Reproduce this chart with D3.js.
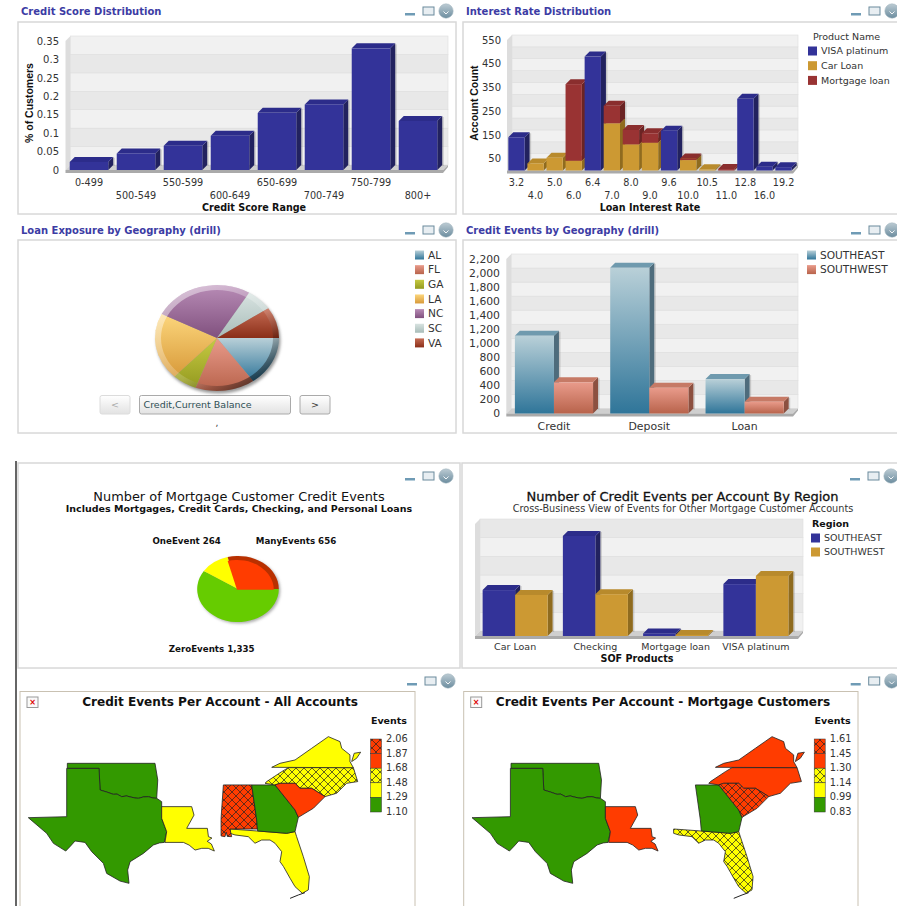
<!DOCTYPE html>
<html>
<head>
<meta charset="utf-8">
<script src="https://cdn.jsdelivr.net/npm/d3@7/dist/d3.min.js"></script>
<style>
html, body { margin: 0; padding: 0; background: #fff; overflow: hidden; }
svg { display: block; font-family: "DejaVu Sans", sans-serif; }
text { fill: #333; }
</style>
</head>
<body>
<div id="chart"></div>
<script>
// credit score panel
const scoreRanges = ["0-499", "500-549", "550-599", "600-649", "650-699", "700-749", "750-799", "800+"];
const scoreShares = [0.022, 0.045, 0.066, 0.093, 0.155, 0.178, 0.33, 0.133];
const scoreTicks = [0, 0.05, 0.1, 0.15, 0.2, 0.25, 0.3, 0.35];

// interest rate panel
const rates = ["3.2", "4.0", "5.0", "6.0", "6.4", "7.0", "8.0", "9.0", "9.6", "10.0", "10.5", "11.0", "12.8", "16.0", "19.2"];
const rateVisa = [140, 0, 0, 0, 480, 0, 0, 0, 168, 0, 0, 0, 302, 16, 14];
const rateCar = [0, 30, 54, 41, 0, 199, 110, 117, 0, 44, 5, 0, 0, 0, 0];
const rateMortgage = [0, 0, 0, 323, 0, 74, 61, 40, 0, 7, 0, 6, 0, 0, 0];
const rateBands = [0, 50, 100, 150, 200, 250, 300, 350, 400, 450, 500, 550];
const rateTicks = [50, 150, 250, 350, 450, 550];

// loan exposure pie
const exposureStates = ["AL", "FL", "GA", "LA", "NC", "SC", "VA"];
const exposureShares = [15.1, 15.5, 6.4, 20.4, 26.2, 6.8, 9.5];

// credit events by geography
const eventTypes = ["Credit", "Deposit", "Loan"];
const eventsSoutheast = [1107, 2074, 490];
const eventsSouthwest = [444, 367, 168];
const eventTicks = [0, 200, 400, 600, 800, 1000, 1200, 1400, 1600, 1800, 2000, 2200];

// mortgage customer pie
const customerLabels = ["ZeroEvents", "OneEvent", "ManyEvents"];
const customerCounts = [1335, 264, 656];

// events per account by region
const products = ["Car Loan", "Checking", "Mortgage loan", "VISA platinum"];
const productSoutheast = [1.23, 2.68, 0.07, 1.39];
const productSouthwest = [1.10, 1.12, 0.03, 1.61];
const productBands = [0, 0.5, 1, 1.5, 2, 2.5, 3];

// state outlines, [lon, lat]
const redRiver = [[-99.9, 36.5], [-99.8, 34.5], [-99.2, 34.32], [-98.55, 34.1], [-98.2, 34.12], [-97.76, 33.88], [-97.3, 33.95], [-96.97, 33.86], [-96.5, 33.76], [-96.19, 33.73], [-95.7, 33.86], [-95.25, 33.88], [-94.8, 33.76], [-94.46, 33.73]];
const oklahoma = [[-102.89, 36.97], [-94.62, 36.97], [-94.36, 35.43], ...redRiver.slice().reverse(), [-102.89, 36.5]];
const texas = [[-102.95, 36.5], ...redRiver, [-93.99, 33.42], [-93.99, 31.88], [-93.52, 30.64], [-93.74, 29.65], [-94.2, 29.6], [-94.77, 29.41], [-95.72, 28.63], [-96.97, 27.86], [-97.2, 27.09], [-97.07, 25.86], [-97.92, 26.07], [-99.18, 26.78], [-99.49, 27.71], [-100.59, 28.79], [-101.22, 29.65], [-102.16, 29.78], [-102.6, 29.3], [-103.04, 28.85], [-104.2, 29.56], [-104.84, 30.49], [-106.57, 31.94], [-102.95, 32.03]];
const louisiana = [[-93.99, 32.96], [-91.16, 32.96], [-90.94, 32.18], [-91.63, 30.95], [-89.68, 30.95], [-89.58, 30.18], [-89.25, 30.05], [-89.7, 29.75], [-89.3, 29.5], [-89.02, 28.85], [-89.6, 29.1], [-90.21, 29.1], [-90.84, 28.94], [-91.4, 29.4], [-91.94, 29.65], [-93.68, 29.65], [-93.52, 30.64], [-93.99, 31.88]];
const alabama = [[-88.17, 34.97], [-85.5, 34.97], [-85.03, 31.73], [-84.97, 30.89], [-87.55, 30.89], [-87.39, 30.18], [-87.8, 30.2], [-87.9, 30.6], [-88.02, 30.18], [-88.39, 30.25], [-88.39, 31.88]];
const georgia = [[-85.5, 34.97], [-83.3, 34.97], [-81.41, 32.65], [-81.1, 31.97], [-81.41, 30.65], [-82.2, 30.49], [-84.94, 30.71], [-85.03, 31.73]];
const southCarolina = [[-83.3, 34.97], [-82.83, 35.12], [-81.41, 35.12], [-80.94, 34.66], [-79.84, 34.66], [-78.58, 33.89], [-79.68, 32.81], [-81.1, 31.97], [-81.41, 32.65]];
const northCarolina = [[-84.24, 35.12], [-84.05, 35.3], [-82.67, 36.2], [-82.04, 36.57], [-75.91, 36.57], [-75.5, 35.28], [-76.54, 35.12], [-77.48, 34.2], [-78.58, 33.89], [-79.84, 34.66], [-80.94, 34.66], [-81.41, 35.12], [-82.83, 35.12], [-83.3, 34.97]];
const virginia = [[-83.61, 36.6], [-75.91, 36.57], [-76.23, 37.13], [-76.23, 37.75], [-77.01, 38.36], [-77.17, 38.98], [-78.27, 39.44], [-79.84, 38.36], [-81.41, 37.28], [-82.83, 36.97]];
const virginiaShore = [[-76.07, 37.13], [-75.83, 37.9], [-75.22, 38], [-75.6, 37.44]];
const florida = [[-87.55, 30.89], [-85.03, 30.71], [-82.2, 30.49], [-81.41, 30.65], [-81.26, 30.18], [-80.63, 28.33], [-80.06, 26.48], [-80.16, 25.25], [-80.72, 24.94], [-81.41, 25.55], [-81.88, 26.33], [-82.5, 27.41], [-82.83, 27.87], [-82.67, 28.79], [-83.3, 29.57], [-83.77, 29.87], [-84.56, 29.87], [-85.19, 29.57], [-85.82, 30.18], [-87.07, 30.34], [-87.55, 30.49]];
const floridaKeys = [[-80.47, 25], [-81.1, 24.78], [-81.88, 24.47]];
const shapes = { OK: oklahoma, TX: texas, LA: louisiana, AL: alabama, FL: florida, GA: georgia, SC: southCarolina, NC: northCarolina, VA: virginia, VAE: virginiaShore };

// legend band per state, 0 = lowest
const allAccountsBands = { OK: 0, TX: 0, LA: 1, FL: 1, AL: 4, GA: 0, NC: 2, SC: 3, VA: 1, VAE: 1 };
const mortgageBands = { OK: 0, TX: 0, LA: 3, FL: 2, GA: 0, NC: 3, SC: 4, VA: 3, VAE: 3 };
const allAccountsBreaks = ["2.06", "1.87", "1.68", "1.48", "1.29", "1.10"];
const mortgageBreaks = ["1.61", "1.45", "1.30", "1.14", "0.99", "0.83"];

const WIDTH = 897;
const HEIGHT = 906;
const DEPTH = 5;

const navy = { front: "#333399", top: "#2c2c8a", side: "#22225f" };
const gold = { front: "#cc9933", top: "#b88a2c", side: "#8f6b1f" };
const maroon = { front: "#993333", top: "#8a2e2e", side: "#6b2424" };
const steel = { front: "url(#gradSteel)", top: "#6f9aae", side: "#4e6c7c" };
const salmon = { front: "url(#gradSalmon)", top: "#c67a66", side: "#8c5040" };

const svg = d3.select("#chart").append("svg").attr("width", WIDTH).attr("height", HEIGHT);
const defs = svg.append("defs");

function linearGradient(id, c1, c2) {
    const g = defs.append("linearGradient").attr("id", id)
        .attr("x1", 0).attr("y1", 0).attr("x2", 0).attr("y2", 1);
    g.append("stop").attr("offset", "0%").attr("stop-color", c1);
    g.append("stop").attr("offset", "100%").attr("stop-color", c2);
}
linearGradient("gradSteel", "#b9d0d8", "#2f7599");
linearGradient("gradSalmon", "#e99b8b", "#b8634b");
linearGradient("gradButton", "#ffffff", "#e2e2e2");
linearGradient("gradIcon", "#bccbd3", "#6c8d9f");

const pieStops = [["#b9d0d8", "#2f7599"], ["#e99b8b", "#b8634b"], ["#c6ca42", "#949a20"], ["#fcd67c", "#d89a3a"], ["#b88cb6", "#80507e"], ["#d8e3e1", "#a8bcb8"], ["#c66c54", "#8a2e18"]];
pieStops.forEach((s, i) => linearGradient(`gradPie${i}`, s[0], s[1]));

const rim = defs.append("linearGradient").attr("id", "gradRim")
    .attr("x1", 0.1).attr("y1", 0.1).attr("x2", 0.85).attr("y2", 0.9);
rim.append("stop").attr("offset", "0%").attr("stop-color", "#fff").attr("stop-opacity", 0.5);
rim.append("stop").attr("offset", "60%").attr("stop-color", "#fff").attr("stop-opacity", 0.15);
rim.append("stop").attr("offset", "80%").attr("stop-color", "#000").attr("stop-opacity", 0.2);
rim.append("stop").attr("offset", "100%").attr("stop-color", "#000").attr("stop-opacity", 0.55);

defs.append("filter").attr("id", "blur").append("feGaussianBlur").attr("stdDeviation", 1.4);

function hatch(id, fill) {
    const p = defs.append("pattern").attr("id", id).attr("patternUnits", "userSpaceOnUse")
        .attr("width", 8).attr("height", 8);
    p.append("rect").attr("width", 8).attr("height", 8).attr("fill", fill);
    p.append("path").attr("d", "M0,0L8,8M8,0L0,8").attr("stroke", "#222").attr("stroke-width", 0.7);
}
hatch("hatchYellow", "#ffff00");
hatch("hatchRed", "#ff3c00");

const bandFill = d3.scaleOrdinal()
    .domain([0, 1, 2, 3, 4])
    .range(["#339900", "#ffff00", "url(#hatchYellow)", "#ff3c00", "url(#hatchRed)"]);

function frame(x1, y1, x2, y2) {
    svg.append("rect")
        .attr("x", x1).attr("y", y1)
        .attr("width", x2 - x1).attr("height", y2 - y1)
        .attr("fill", "#fff").attr("stroke", "#d8d8d8").attr("stroke-width", 1.5);
}

function panelTitle(x, y, label) {
    svg.append("text").attr("x", x).attr("y", y).attr("dy", "0.35em")
        .attr("font-size", 10).attr("font-weight", "bold")
        .style("fill", "#3c3ca4").text(label);
}

function windowIcons(x, y) {
    const g = svg.append("g").attr("transform", `translate(${x},${y})`);
    g.append("rect").attr("x", 0).attr("y", 2).attr("width", 10).attr("height", 2.5).attr("fill", "#6f9bb5");
    g.append("rect").attr("x", 18).attr("y", -4).attr("width", 11).attr("height", 8)
        .attr("fill", "#e8eef2").attr("stroke", "#6a8a9c");
    g.append("circle").attr("cx", 41).attr("cy", 0).attr("r", 7.2).attr("fill", "url(#gradIcon)").attr("stroke", "#9fb3bd").attr("stroke-width", 0.5);
    g.append("path").attr("d", "M38.5,0.5L41,3L43.5,0.5").attr("fill", "none").attr("stroke", "#fff").attr("stroke-width", 0.9);
}

// back wall, side wall and floor of a fake 3d plot
function drawWalls(g, x0, x1, y, bands) {
    const yBottom = y(bands[0]);
    const yTop = y(bands[bands.length - 1]);
    g.append("polygon")
        .attr("points", [[x0, yBottom], [x0, yTop], [x0 + DEPTH, yTop - DEPTH], [x0 + DEPTH, yBottom - DEPTH]].join(" "))
        .attr("fill", "#dddddd");
    g.append("g").selectAll("rect")
        .data(d3.pairs(bands))
        .join("rect")
        .attr("x", x0 + DEPTH)
        .attr("y", d => y(d[1]) - DEPTH)
        .attr("width", x1 - x0)
        .attr("height", d => y(d[0]) - y(d[1]))
        .attr("fill", (d, i) => i % 2 ? "#e8e8e8" : "#f1f1f1")
        .attr("stroke", "#dedede")
        .attr("stroke-width", 0.6);
    g.append("polygon")
        .attr("points", [[x0, yBottom], [x1, yBottom], [x1 + DEPTH, yBottom - DEPTH], [x0 + DEPTH, yBottom - DEPTH]].join(" "))
        .attr("fill", "#cfcfcf");
    g.append("polygon")
        .attr("points", [[x0, yBottom], [x1, yBottom], [x1 + DEPTH, yBottom - DEPTH], [x1 + DEPTH, yBottom - DEPTH + 2], [x1, yBottom + 3], [x0, yBottom + 3]].join(" "))
        .attr("fill", "#aaaaaa");
}

function bar3d(g, x, w, yTop, yBottom, colors) {
    // soft shadow right of the bar
    g.append("rect")
        .attr("x", x + w + DEPTH).attr("y", yTop - DEPTH + 1).attr("width", 1.5).attr("height", yBottom - yTop)
        .attr("fill", "#777").attr("opacity", 0.3);
    g.append("polygon")
        .attr("points", [[x + w, yTop], [x + w + DEPTH, yTop - DEPTH], [x + w + DEPTH, yBottom - DEPTH], [x + w, yBottom]].join(" "))
        .attr("fill", colors.side);
    g.append("polygon")
        .attr("points", [[x, yTop], [x + DEPTH, yTop - DEPTH], [x + w + DEPTH, yTop - DEPTH], [x + w, yTop]].join(" "))
        .attr("fill", colors.top);
    g.append("rect")
        .attr("x", x).attr("y", yTop).attr("width", w).attr("height", Math.max(yBottom - yTop, 0.1))
        .attr("fill", colors.front);
}

function valueAxis(x, y, ticks, format, size) {
    const a = svg.append("g").attr("transform", `translate(${x},0)`)
        .call(d3.axisLeft(y).tickValues(ticks).tickFormat(format).tickSize(0).tickPadding(3));
    a.select(".domain").remove();
    a.selectAll("text").attr("font-size", size).style("fill", "#333");
    a.attr("font-family", null);
}

function bandAxis(scale, y, stagger, size) {
    const a = svg.append("g").attr("transform", `translate(0,${y})`)
        .call(d3.axisBottom(scale).tickSize(0).tickPadding(0));
    a.select(".domain").remove();
    a.selectAll("text")
        .attr("font-size", size)
        .attr("dy", "0.35em")
        .attr("y", (d, i) => stagger && i % 2 ? 12.5 : 0)
        .style("fill", "#333");
    a.attr("font-family", null);
}

function axisTitle(x, y, label) {
    svg.append("text").attr("x", x).attr("y", y).attr("dy", "0.35em")
        .attr("text-anchor", "middle")
        .attr("font-size", 9.6).attr("font-weight", "bold").style("fill", "#111").text(label);
}

function yTitle(x, y, label) {
    svg.append("text").attr("transform", `translate(${x},${y}) rotate(-90)`)
        .attr("dy", "0.35em").attr("text-anchor", "middle")
        .attr("font-family", "Liberation Sans").attr("font-size", 10.5).attr("font-weight", "bold")
        .style("fill", "#111").text(label);
}

function legendRows(x, y, step, names, fills, size) {
    const g = svg.append("g").selectAll("g")
        .data(names).join("g")
        .attr("transform", (d, i) => `translate(${x},${y + i * step})`);
    g.append("rect").attr("x", 0).attr("y", -4.5).attr("width", 9).attr("height", 9)
        .attr("fill", (d, i) => fills[i]);
    g.append("text").attr("x", 13).attr("dy", "0.35em").attr("font-size", size).style("fill", "#333").text(d => d);
}

// ---- Credit Score Distribution
function renderScore() {
    panelTitle(21, 11, "Credit Score Distribution");
    windowIcons(405, 11);
    frame(18, 22, 456, 214);
    const x = d3.scaleBand().domain(scoreRanges).range([65.5, 441.5]).paddingInner(0.18).paddingOuter(0.09);
    const y = d3.scaleLinear().domain([0, 0.35]).range([170, 41]);
    const g = svg.append("g");
    drawWalls(g, 65.5, 443, y, scoreTicks);
    scoreRanges.forEach((r, i) => bar3d(g, x(r), x.bandwidth(), y(scoreShares[i]), y(0), navy));
    valueAxis(62, y, scoreTicks, d => d, 10);
    bandAxis(x, 183, true, 9.7);
    yTitle(29, 103, "% of Customers");
    axisTitle(254, 208, "Credit Score Range");
}

// ---- Interest Rate Distribution
function renderRates() {
    panelTitle(466, 11, "Interest Rate Distribution");
    windowIcons(851, 11);
    frame(463, 22, 905, 214);
    const x = d3.scaleBand().domain(rates).range([507, 793]).paddingInner(0.145).paddingOuter(0.07);
    const y = d3.scaleLinear().domain([0, 550]).range([170.5, 40]);
    const table = rates.map((r, i) => ({ rate: r, car: rateCar[i], mortgage: rateMortgage[i], visa: rateVisa[i] }));
    const colors = { car: gold, mortgage: maroon, visa: navy };
    const stacked = d3.stack().keys(["car", "mortgage", "visa"])(table);
    const g = svg.append("g");
    drawWalls(g, 507, 793, y, rateBands);
    rates.forEach((r, i) => {
        stacked.forEach(layer => {
            const [v0, v1] = layer[i];
            if (v1 > v0) bar3d(g, x(r), x.bandwidth(), y(v1), y(v0), colors[layer.key]);
        });
    });
    valueAxis(504, y, rateTicks, d => d, 10);
    bandAxis(x, 183, true, 9.7);
    yTitle(474, 103, "Account Count");
    axisTitle(650, 208, "Loan Interest Rate");
    svg.append("text").attr("x", 813).attr("y", 37).attr("dy", "0.35em").attr("font-size", 9.5).text("Product Name");
    legendRows(808, 51, 14.7, ["VISA platinum", "Car Loan", "Mortgage loan"], [navy.front, gold.front, maroon.front], 9.5);
}

// ---- Loan Exposure by Geography
function renderExposure() {
    panelTitle(21, 230, "Loan Exposure by Geography (drill)");
    windowIcons(405, 230);
    frame(18, 240, 456, 433);
    const cx = 217, cy = 338, R = 62;
    svg.append("ellipse").attr("cx", cx + 1.5).attr("cy", cy + 2.5).attr("rx", R).attr("ry", R * 0.855)
        .attr("fill", "#999").attr("filter", "url(#blur)");
    const pie = d3.pie().sort(null).startAngle(Math.PI / 2).endAngle(Math.PI * 2.5);
    const arc = d3.arc().innerRadius(0).outerRadius(R);
    const g = svg.append("g").attr("transform", `translate(${cx},${cy}) scale(1,0.855)`);
    g.selectAll("path.slice").data(pie(exposureShares)).join("path")
        .attr("class", "slice")
        .attr("d", arc)
        .attr("fill", (d, i) => `url(#gradPie${i})`);
    g.append("path")
        .attr("d", d3.arc().innerRadius(R - 6).outerRadius(R).startAngle(0).endAngle(Math.PI * 2))
        .attr("fill", "url(#gradRim)");
    legendRows(415, 255, 14.65, exposureStates, exposureStates.map((d, i) => `url(#gradPie${i})`), 10.6);

    const button = (x, w, label, color, stroke, anchor) => {
        svg.append("rect").attr("x", x).attr("y", 395.5).attr("width", w).attr("height", 18.5).attr("rx", 2)
            .attr("fill", "url(#gradButton)").attr("stroke", stroke);
        svg.append("text").attr("x", anchor === "middle" ? x + w / 2 : x + 4).attr("y", 405).attr("dy", "0.35em")
            .attr("text-anchor", anchor).attr("font-size", 9.5).style("fill", color).text(label);
    };
    button(100, 30, "<", "#aaa", "#dcdcdc", "middle");
    button(139.5, 151, "Credit,Current Balance", "#2f4f55", "#aaa", "start");
    button(300, 30, ">", "#333", "#aaa", "middle");
    svg.append("text").attr("x", 217).attr("y", 426).attr("text-anchor", "middle").attr("font-size", 9).text(",");
}

// ---- Credit Events by Geography
function renderEvents() {
    panelTitle(466, 230, "Credit Events by Geography (drill)");
    windowIcons(851, 230);
    frame(463, 240, 905, 433);
    const x = d3.scaleBand().domain(eventTypes).range([506.3, 792.3]).paddingInner(0.18).paddingOuter(0.09);
    const inner = d3.scaleBand().domain([0, 1]).range([0, x.bandwidth()]);
    const y = d3.scaleLinear().domain([0, 2200]).range([413.5, 259]);
    const g = svg.append("g");
    drawWalls(g, 506.3, 793, y, eventTicks);
    eventTypes.forEach((c, i) => {
        bar3d(g, x(c) + inner(0), inner.bandwidth(), y(eventsSoutheast[i]), y(0), steel);
        bar3d(g, x(c) + inner(1), inner.bandwidth(), y(eventsSouthwest[i]), y(0), salmon);
    });
    valueAxis(503, y, eventTicks, d3.format(","), 10.8);
    bandAxis(x, 426, false, 10.9);
    legendRows(807, 255, 14.6, ["SOUTHEAST", "SOUTHWEST"], [steel.front, salmon.front], 10.6);
}

// ---- Number of Mortgage Customer Credit Events
function renderCustomers() {
    windowIcons(405, 476);
    svg.append("text").attr("x", 239).attr("y", 496).attr("dy", "0.35em").attr("text-anchor", "middle")
        .attr("font-size", 12.9).text("Number of Mortgage Customer Credit Events").style("fill", "#111");
    svg.append("text").attr("x", 239).attr("y", 509).attr("dy", "0.35em").attr("text-anchor", "middle")
        .attr("font-size", 9.5).attr("font-weight", "bold").text("Includes Mortgages, Credit Cards, Checking, and Personal Loans").style("fill", "#111");
    const cx = 238, cy = 589, R = 40.8;
    svg.append("ellipse").attr("cx", cx + 1.5).attr("cy", cy + 1.5).attr("rx", R).attr("ry", R * 0.81)
        .attr("fill", "#aaa").attr("filter", "url(#blur)");
    const pie = d3.pie().sort(null).startAngle(Math.PI / 2).endAngle(Math.PI * 2.5)(customerCounts);
    const fills = ["#66cc00", "#ffff00", "#ff3c00"];
    const g = svg.append("g").attr("transform", `translate(${cx},${cy}) scale(1,0.81)`);
    const arc = d3.arc().innerRadius(0).outerRadius(R);
    g.selectAll("path").data(pie).join("path")
        .attr("d", arc)
        .attr("fill", (d, i) => i === 2 ? "#b83000" : fills[i]);
    // the red slice sits a little inside its darker rim
    g.append("path").datum(pie[2])
        .attr("d", d3.arc().innerRadius(0).outerRadius(R - 4))
        .attr("transform", "translate(-1,1)")
        .attr("fill", fills[2]);
    const labels = [[211.7, 649], [186.7, 540.5], [296, 541]];
    svg.append("g").selectAll("text").data(customerLabels).join("text")
        .attr("x", (d, i) => labels[i][0])
        .attr("y", (d, i) => labels[i][1])
        .attr("dy", "0.35em")
        .attr("text-anchor", "middle")
        .attr("font-size", 8.7).attr("font-weight", "bold")
        .style("fill", "#111")
        .text((d, i) => `${d} ${d3.format(",")(customerCounts[i])}`);
}

// ---- Number of Credit Events per Account By Region
function renderRegion() {
    windowIcons(850, 476);
    svg.append("text").attr("x", 682.5).attr("y", 496).attr("dy", "0.35em").attr("text-anchor", "middle")
        .attr("font-size", 13).attr("stroke", "#111").attr("stroke-width", 0.3)
        .text("Number of Credit Events per Account By Region").style("fill", "#111");
    svg.append("text").attr("x", 683).attr("y", 509).attr("dy", "0.35em").attr("text-anchor", "middle")
        .attr("font-size", 9.7).text("Cross-Business View of Events for Other Mortgage Customer Accounts");
    const x = d3.scaleBand().domain(products).range([475, 796]).paddingInner(0.19).paddingOuter(0.095);
    const inner = d3.scaleBand().domain([0, 1]).range([0, x.bandwidth()]);
    const y = d3.scaleLinear().domain([0, 3]).range([636, 524]);
    const g = svg.append("g");
    drawWalls(g, 475, 798, y, productBands);
    products.forEach((c, i) => {
        bar3d(g, x(c) + inner(0), inner.bandwidth(), y(productSoutheast[i]), y(0), navy);
        bar3d(g, x(c) + inner(1), inner.bandwidth(), y(productSouthwest[i]), y(0), gold);
    });
    bandAxis(x, 647, false, 9.5);
    axisTitle(637, 659, "SOF Products");
    svg.append("text").attr("x", 812).attr("y", 524).attr("dy", "0.35em").attr("font-size", 9.5).attr("font-weight", "bold").style("fill", "#111").text("Region");
    legendRows(811, 538, 14, ["SOUTHEAST", "SOUTHWEST"], [navy.front, gold.front], 9.5);
}

// ---- maps
function renderMap(offset, boxRight, title, titleX, bands, breaks) {
    windowIcons(offset + 407, 681);
    svg.append("rect").attr("x", offset + 20).attr("y", 691.5).attr("width", boxRight - offset - 20).attr("height", 230)
        .attr("fill", "#fff").attr("stroke", "#c9c1b2");
    svg.append("rect").attr("x", offset + 27).attr("y", 697).attr("width", 11).attr("height", 10.5)
        .attr("fill", "#fafafa").attr("stroke", "#999");
    svg.append("text").attr("x", offset + 32.5).attr("y", 702).attr("dy", "0.35em").attr("text-anchor", "middle")
        .attr("font-size", 8).attr("font-weight", "bold").style("fill", "#d00").text("×");
    svg.append("text").attr("x", titleX).attr("y", 702).attr("dy", "0.35em").attr("text-anchor", "middle")
        .attr("font-size", 12.1).attr("font-weight", "bold").style("fill", "#111").text(title);

    const lon = d3.scaleLinear().domain([-106.6, -75.5]).range([offset + 28, offset + 357.7]);
    const lat = d3.scaleLinear().domain([37, 25.15]).range([763, 891]);
    const outline = d3.line().x(d => lon(d[0])).y(d => lat(d[1]));
    svg.append("g").selectAll("path")
        .data(Object.keys(bands))
        .join("path")
        .attr("d", d => outline(shapes[d]) + "Z")
        .attr("fill", d => bandFill(bands[d]))
        .attr("stroke", "#222")
        .attr("stroke-width", 0.8)
        .attr("stroke-linejoin", "round");

    svg.append("path")
        .attr("d", outline(floridaKeys))
        .attr("fill", "none").attr("stroke", "#222");

    svg.append("text").attr("x", offset + 407).attr("y", 721).attr("dy", "0.35em").attr("text-anchor", "end")
        .attr("font-size", 9.5).attr("font-weight", "bold").style("fill", "#111").text("Events");

    const levels = [4, 3, 2, 1, 0];
    const swatch = d3.scaleBand().domain(levels).range([739, 812]);
    svg.append("g").selectAll("rect").data(levels).join("rect")
        .attr("x", offset + 370.5)
        .attr("y", d => swatch(d))
        .attr("width", 11)
        .attr("height", swatch.bandwidth())
        .attr("fill", d => bandFill(d))
        .attr("stroke", "#333")
        .attr("stroke-width", 0.5);
    const tick = d3.scalePoint().domain(breaks).range([738.5, 811]);
    const a = svg.append("g").attr("transform", `translate(${offset + 383},0)`)
        .call(d3.axisRight(tick).tickSize(0).tickPadding(3));
    a.select(".domain").remove();
    a.selectAll("text").attr("font-size", 9.8).style("fill", "#333");
    a.attr("font-family", null);
}

// ---- frames of the lower section
frame(18, 463, 460, 668);
frame(462, 463, 905, 668);
svg.append("line").attr("x1", 16).attr("x2", 16).attr("y1", 461).attr("y2", HEIGHT).attr("stroke", "#333").attr("stroke-width", 1.5);

renderScore();
renderRates();
renderExposure();
renderEvents();
renderCustomers();
renderRegion();
renderMap(0, 415, "Credit Events Per Account - All Accounts", 220, allAccountsBands, allAccountsBreaks);
renderMap(443.7, 858, "Credit Events Per Account - Mortgage Customers", 663, mortgageBands, mortgageBreaks);
</script>
</body>
</html>
